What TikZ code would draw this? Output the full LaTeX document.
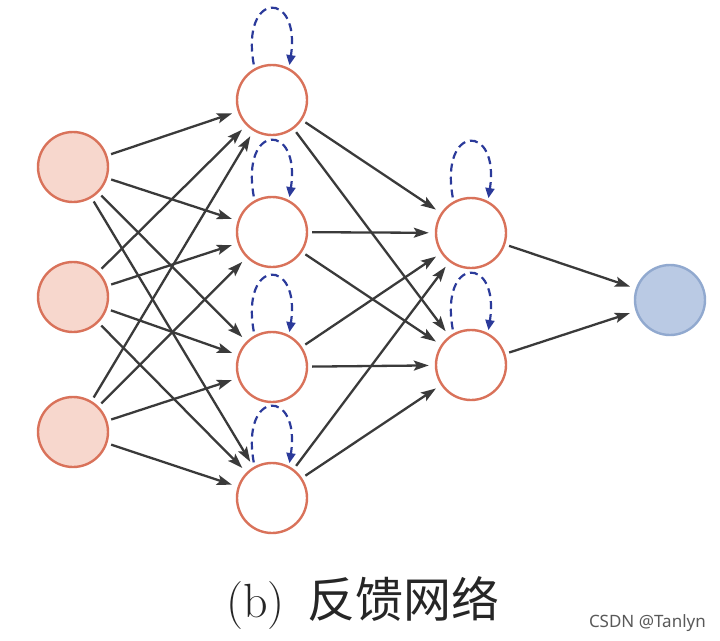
\documentclass[tikz,border=0pt]{standalone}
\usepackage{fontspec}
\newfontfamily\cjk{Noto Sans CJK SC}
\newfontfamily\wm{Noto Sans}
\usetikzlibrary{arrows.meta}
\definecolor{ring}{HTML}{D9725A}
\definecolor{infill}{HTML}{F7D7CD}
\definecolor{outfill}{HTML}{BACAE4}
\definecolor{outring}{HTML}{91A9CF}
\definecolor{edge}{HTML}{3A3A3A}
\definecolor{loopc}{HTML}{2B3A9A}
\tikzset{
  neuron/.style={circle,draw=ring,line width=2.4pt,minimum size=70pt,inner sep=0pt,fill=white},
  inneuron/.style={neuron,fill=infill},
  outneuron/.style={circle,draw=outring,line width=2.4pt,minimum size=70pt,inner sep=0pt,fill=outfill},
  conn/.style={draw=edge,line width=2.3pt,-{Stealth[length=15pt,width=10pt,inset=3pt]},shorten <=4pt,shorten >=6pt},
  selfloop/.style={draw=loopc,line width=2.2pt,dash pattern=on 8pt off 5pt,-{Triangle[length=10pt,width=9pt]},shorten <=4pt,shorten >=3pt}
}
\begin{document}
\begin{tikzpicture}[x=1pt,y=-1pt]
\useasboundingbox (0,0) rectangle (720,640);
\node[inneuron] (in1) at (73,167) {};
\node[inneuron] (in2) at (73,297) {};
\node[inneuron] (in3) at (73,432) {};
\node[neuron] (h1) at (272,100) {};
\node[neuron] (h2) at (272,232) {};
\node[neuron] (h3) at (272,367) {};
\node[neuron] (h4) at (272,498) {};
\node[neuron] (g1) at (471,233) {};
\node[neuron] (g2) at (471,365) {};
\node[outneuron] (out) at (670,300) {};
\foreach \i in {in1,in2,in3}{
  \foreach \j in {h1,h2,h3,h4}{
    \draw[conn] (\i) -- (\j);
  }
}
\foreach \i in {h1,h2,h3,h4}{
  \foreach \j in {g1,g2}{
    \draw[conn] (\i) -- (\j);
  }
}
\draw[conn] (g1) -- (out);
\draw[conn] (g2) -- (out);
\foreach \n in {h1,h2,h3,h4,g1,g2}{
  \draw[selfloop] (\n.119) .. controls +(-14,-78) and +(12,-78) .. (\n.62);
}
\node[anchor=base west,inner sep=0pt,text=black!85] (cap) at (226,617) {\fontsize{48}{52}\selectfont (b)\,\ {\cjk 反馈网络}};
\node[anchor=base east,inner sep=0pt,text=black!65] (wmk) at (706,627) {\wm\fontsize{17}{19}\selectfont CSDN @Tanlyn};
\end{tikzpicture}
\end{document}
